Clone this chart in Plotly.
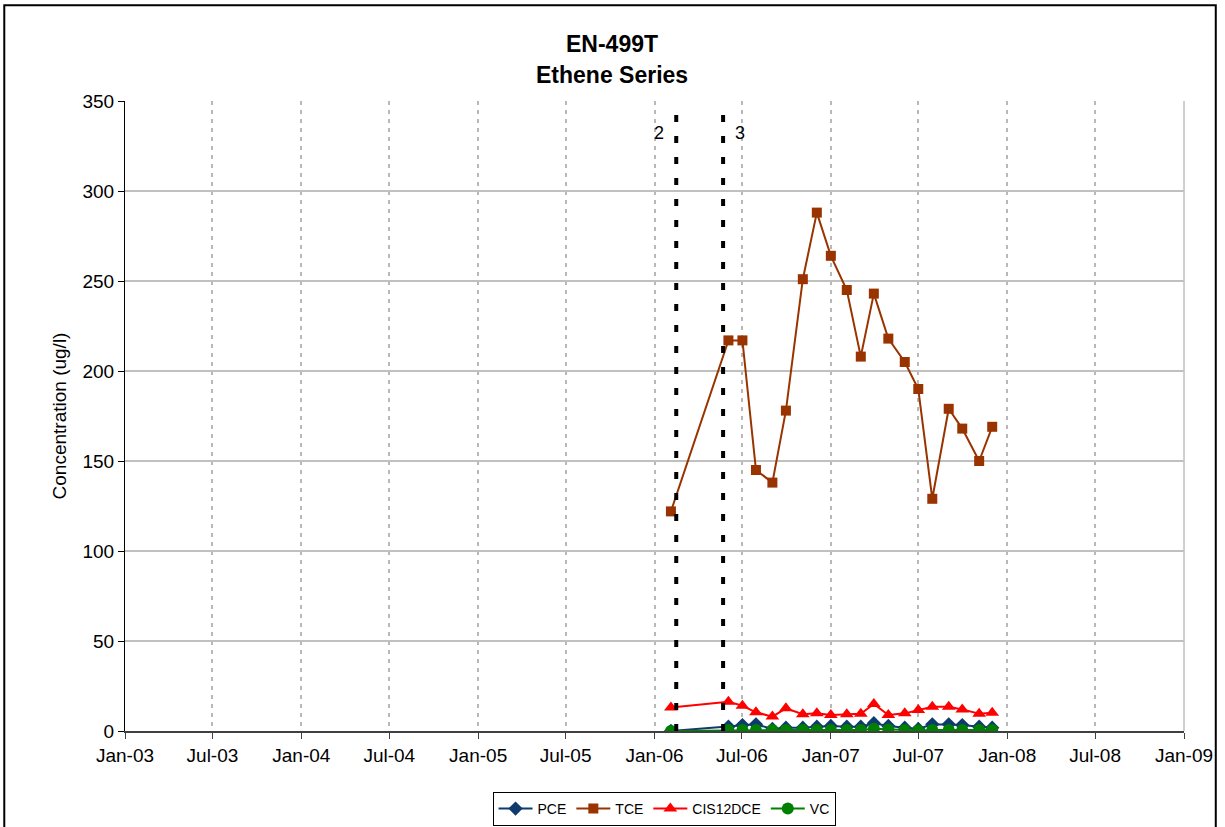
import plotly.graph_objects as go

# ---------------- data ----------------
dates = ["2006-02-04", "2006-06-03", "2006-07-02", "2006-07-30", "2006-09-02",
         "2006-09-30", "2006-11-04", "2006-12-03", "2007-01-01", "2007-02-03",
         "2007-03-04", "2007-03-31", "2007-04-30", "2007-06-03", "2007-07-01",
         "2007-07-30", "2007-09-02", "2007-09-30", "2007-11-04", "2007-12-01"]
pce = [0, 2.4, 3.3, 3.7, 1.1, 1.8, 1.8, 2.4, 2.8, 2.4,
       2.4, 4.3, 2.8, 1.8, 1.1, 3.7, 3.7, 3.3, 2.4, 1.8]
tce = [122, 217, 217, 145, 138, 178, 251, 288, 264, 245,
       208, 243, 218, 205, 190, 129, 179, 168, 150, 169]
cis12dce = [13, 16.3, 14, 10.4, 8, 12.6, 9.3, 9.8, 8.9, 9.3,
            9.6, 15, 8.9, 9.8, 11.7, 13.5, 13.5, 12, 9.6, 10.2]
vc = [0, 0.5, 0.5, 0.5, 0.5, 0.5, 0.5, 0.5, 0.5, 0.5,
      0.5, 1.2, 0.8, 0.5, 0.3, 0.5, 0.5, 0.5, 0.5, 0.5]

event_dates = ["2006-02-15", "2006-05-23"]
event_labels = ["2", "3"]
event_label_value = 332

tick_dates = ["2003-01-01", "2003-07-01", "2004-01-01", "2004-07-01", "2005-01-01",
              "2005-07-01", "2006-01-01", "2006-07-01", "2007-01-01", "2007-07-01",
              "2008-01-01", "2008-07-01", "2009-01-01"]
tick_labels = ["Jan-03", "Jul-03", "Jan-04", "Jul-04", "Jan-05", "Jul-05", "Jan-06",
               "Jul-06", "Jan-07", "Jul-07", "Jan-08", "Jul-08", "Jan-09"]
y_ticks = [0, 50, 100, 150, 200, 250, 300, 350]

FONT = "Liberation Sans, Arial, sans-serif"

fig = go.Figure()

series = [
    ("PCE", pce, "#0F3A6E", "diamond", 11),
    ("TCE", tce, "#993300", "square", 10),
    ("CIS12DCE", cis12dce, "#FF0000", "triangle-up", 12),
    ("VC", vc, "#008000", "circle", 12),
]
for name, vals, color, sym, size in series:
    fig.add_trace(go.Scatter(
        x=dates, y=vals, name=name, mode="lines+markers",
        line=dict(color=color, width=2),
        marker=dict(symbol=sym, size=size, color=color),
    ))

# event lines
for d in event_dates:
    fig.add_shape(type="line", xref="x", yref="y", x0=d, x1=d, y0=0, y1=350,
                  line=dict(color="black", width=4, dash="7px,14px"), layer="above")
shifts = [-17, 17]
for d, lab, s in zip(event_dates, event_labels, shifts):
    fig.add_annotation(x=d, y=event_label_value, xref="x", yref="y", text=lab,
                       showarrow=False, xshift=s, font=dict(size=18, color="black", family=FONT))

# right border of plot area
fig.add_shape(type="line", xref="paper", yref="paper", x0=1, x1=1, y0=0, y1=1,
              line=dict(color="#a0a0a0", width=1), layer="below")

# outer chart border
fig.add_shape(type="rect", xref="paper", yref="paper",
              x0=-0.114, x1=1.030, y0=-0.16, y1=1.152,
              line=dict(color="black", width=2), fillcolor="rgba(0,0,0,0)")

# titles
fig.add_annotation(xref="paper", yref="paper", x=0.4595, y=1.090, yanchor="middle",
                   xanchor="center", text="<b>EN-499T</b>",
                   showarrow=False, font=dict(size=23, color="black", family=FONT))
fig.add_annotation(xref="paper", yref="paper", x=0.4595, y=1.041, yanchor="middle",
                   xanchor="center", text="<b>Ethene Series</b>",
                   showarrow=False, font=dict(size=23, color="black", family=FONT))

fig.update_layout(
    width=1225, height=827,
    margin=dict(l=125, r=39, t=101, b=96),
    paper_bgcolor="white", plot_bgcolor="white",
    font=dict(family=FONT, color="black"),
    showlegend=True,
    legend=dict(orientation="h", x=0.509, y=0.0218, yref="container",
                xanchor="center", yanchor="middle",
                bordercolor="black", borderwidth=1, font=dict(size=14, family=FONT),
                itemwidth=34, tracegroupgap=0),
)
fig.update_xaxes(
    type="date", range=["2003-01-01", "2009-01-01"],
    tickvals=tick_dates, ticktext=tick_labels,
    tickfont=dict(size=19, family=FONT), ticks="outside", ticklen=6, tickcolor="#404040",
    showline=True, linecolor="#404040", linewidth=2,
    showgrid=True, gridcolor="#b8b8b8", griddash="4px,5px", gridwidth=1.5,
    zeroline=False,
)
fig.update_yaxes(
    range=[0, 350], tickvals=y_ticks,
    tickfont=dict(size=19, family=FONT), ticks="outside", ticklen=6, tickcolor="black",
    showline=True, linecolor="black", linewidth=1,
    showgrid=True, gridcolor="#c0c0c0", gridwidth=1.5,
    zeroline=False,
    title=dict(text="Concentration (ug/l)", font=dict(size=19, family=FONT), standoff=10),
)

fig.write_html("out.html", config={"displayModeBar": False},
               post_script="document.body.style.margin='0';")
